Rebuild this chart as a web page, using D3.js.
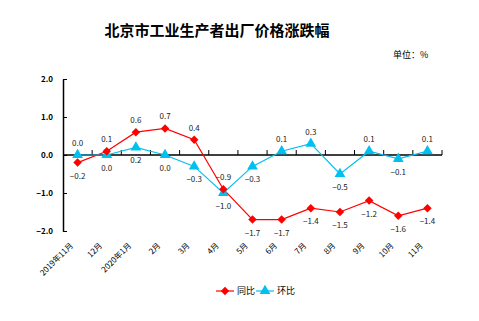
<!DOCTYPE html>
<html>
<head>
<meta charset="utf-8">
<script src="https://cdn.jsdelivr.net/npm/d3@7"></script>
<style>
  body { margin: 0; background: #fff; }
  text { font-family: "Noto Sans CJK SC", "DejaVu Sans", sans-serif; }
</style>
</head>
<body>
<svg id="chart" width="479" height="321"></svg>
<script>
// categories and series
const months = ["2019年11月", "12月", "2020年1月", "2月", "3月", "4月", "5月", "6月", "7月", "8月", "9月", "10月", "11月"];
const yoy = [-0.2, 0.1, 0.6, 0.7, 0.4, -0.9, -1.7, -1.7, -1.4, -1.5, -1.2, -1.6, -1.4];
const mom = [0.0, 0.0, 0.2, 0.0, -0.3, -1.0, -0.3, 0.1, 0.3, -0.5, 0.1, -0.1, 0.1];
// label above (1) or below (-1) the point
const yoyPos = [-1, 1, 1, 1, 1, 1, -1, -1, -1, -1, -1, -1, -1];
const momPos = [1, -1, -1, -1, -1, -1, -1, 1, 1, -1, 1, -1, 1];
const yTicks = [2, 1, 0, -1, -2];

const svg = d3.select("#chart");
const red = "#ff0000", blue = "#00c0f0";

const x = d3.scaleBand().domain(months).range([63, 442]);
const y = d3.scaleLinear().domain([-2, 2]).range([231, 79]);
const cx = d => x(d) + x.bandwidth() / 2;

// title
svg.append("text").attr("x", 217).attr("y", 36).attr("text-anchor", "middle")
  .style("font-size", "15px").style("font-weight", "bold")
  .text("北京市工业生产者出厂价格涨跌幅");
svg.append("text").attr("x", 393).attr("y", 58)
  .style("font-size", "9px").text("单位：%");

// y axis
const yAxis = svg.append("g").attr("transform", "translate(63,0)")
  .call(d3.axisLeft(y).tickValues(yTicks).tickFormat(d3.format(".1f")).tickSizeInner(-4).tickSizeOuter(0).tickPadding(10));
yAxis.select(".domain").attr("stroke", "#000").attr("stroke-width", 1.5);
yAxis.selectAll("text").style("font-size", "8px").attr("fill", "#000").style("font-weight", "bold");

// x axis along zero
const xAxis = svg.append("g").attr("transform", `translate(0,${y(0)})`);
xAxis.append("line").attr("x1", 63).attr("x2", 442).attr("stroke", "#000").attr("stroke-width", 1.5);
xAxis.selectAll(".tk").data(months).enter().append("line")
  .attr("x1", (d, i) => 63 + (i + 1) * x.step()).attr("x2", (d, i) => 63 + (i + 1) * x.step())
  .attr("y1", 0).attr("y2", -5).attr("stroke", "#000");

// x labels (rotated)
svg.append("g").selectAll("text").data(months).enter().append("text")
  .attr("transform", d => `translate(${cx(d) - 4},${246}) rotate(-45)`)
  .attr("text-anchor", "end").style("font-size", "8px").text(d => d);

// lines
const line = vals => d3.line().x((d, i) => cx(months[i])).y(d => y(d))(vals);
svg.append("path").attr("d", line(yoy)).attr("fill", "none").attr("stroke", red).attr("stroke-width", 1.2);
svg.append("path").attr("d", line(mom)).attr("fill", "none").attr("stroke", blue).attr("stroke-width", 1.2);

// markers
const diamond = d3.symbol().type(d3.symbolSquare).size(36);
const tri = d3.symbol().type(d3.symbolTriangle).size(50);
svg.append("g").selectAll("path").data(mom).enter().append("path")
  .attr("d", tri).attr("fill", blue)
  .attr("transform", (d, i) => `translate(${cx(months[i])},${y(d)})`);
svg.append("g").selectAll("path").data(yoy).enter().append("path")
  .attr("d", diamond).attr("fill", red)
  .attr("transform", (d, i) => `translate(${cx(months[i])},${y(d)}) rotate(45)`);

// data labels
function labels(vals, pos) {
  svg.append("g").selectAll("text").data(vals).enter().append("text")
    .attr("x", (d, i) => cx(months[i]))
    .attr("y", (d, i) => y(d) + (pos[i] > 0 ? -9 : 16))
    .attr("text-anchor", "middle").style("font-size", "8px").attr("fill", "#222")
    .text(d => d3.format(".1f")(d));
}
labels(yoy, yoyPos);
labels(mom, momPos);

// legend
const lg = svg.append("g").attr("transform", "translate(216,291)");
lg.append("line").attr("x1", 0).attr("x2", 18).attr("stroke", red).attr("stroke-width", 1.2);
lg.append("path").attr("d", diamond).attr("fill", red).attr("transform", "translate(9,0) rotate(45)");
lg.append("text").attr("x", 21).attr("y", 3).style("font-size", "9px").text("同比");
lg.append("line").attr("x1", 40).attr("x2", 58).attr("stroke", blue).attr("stroke-width", 1.2);
lg.append("path").attr("d", tri).attr("fill", blue).attr("transform", "translate(49,0)");
lg.append("text").attr("x", 61).attr("y", 3).style("font-size", "9px").text("环比");
</script>
</body>
</html>
